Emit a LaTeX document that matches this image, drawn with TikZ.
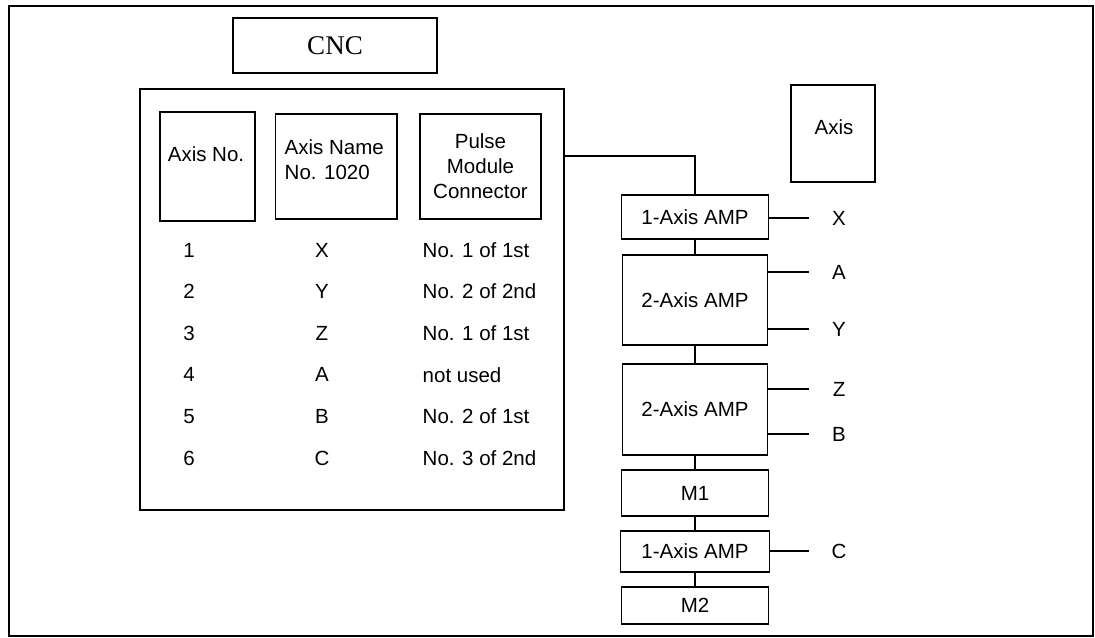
\documentclass[tikz,border=0pt]{standalone}
\usepackage{fontspec}
\setmainfont{Liberation Sans}
\newfontfamily\cncfont{Liberation Serif}
\usepackage{tikz}

\begin{document}
\begin{tikzpicture}[x=0.5pt, y=-0.5pt, line width=0.7pt,
        font=\fontsize{10.25}{12.5}\selectfont,
        box/.style={draw, inner sep=0pt},
        txt/.style={inner sep=0pt},
        tap/.style={shorten >=15pt}]
            % Frame
            \useasboundingbox (0,0) rectangle (1095,637);
            \draw[line width=0.9pt] (9,6) rectangle (1093,636);

            % Nodes
            \node[box, minimum width=102pt, minimum height=27.5pt, font=\cncfont\fontsize{13.5}{16}\selectfont] (cnc) at (335,45.5) {CNC};
            \node[box, minimum width=212pt, minimum height=210.5pt] (unit) at (352,299.5) {};

            \node[box, minimum width=47.5pt, minimum height=54.5pt] (hno) at (207.5,166.5) {};
            \node[txt] (hnotxt) at (206,154) {Axis No.};
            \node[box, minimum width=60.75pt, minimum height=52.5pt] (hname) at (336.25,166.5) {};
            \node[txt, anchor=west, align=left] (hnametxt) at (284,159.5) {Axis Name\\No. 1020};
            \node[box, minimum width=60.5pt, minimum height=52.5pt, align=center] (hconn) at (480.5,166.5) {Pulse\\Module\\Connector};

            \foreach \idx/\ax/\conn [count=\i] in {1/X/No. 1 of 1st, 2/Y/No. 2 of 2nd, 3/Z/No. 1 of 1st, 4/A/not used, 5/B/No. 2 of 1st, 6/C/No. 3 of 2nd}{
                \node[txt] (no\i) at (189,{250+41.6*(\i-1)}) {\idx};
                \node[txt] (ax\i) at (322,{250+41.6*(\i-1)}) {\ax};
                \node[txt, anchor=west] (conn\i) at (422,{250+41.6*(\i-1)}) {\conn};
            }

            \node[box, minimum width=42pt, minimum height=48.5pt] (axisbox) at (833,133.5) {};
            \node[txt] (axistxt) at (834,127) {Axis};

            \node[box, minimum width=73.5pt, minimum height=22pt] (amp1) at (695,217) {1-Axis AMP};
            \node[box, minimum width=72.75pt, minimum height=45pt] (amp2) at (695,300) {2-Axis AMP};
            \node[box, minimum width=72.5pt, minimum height=45.5pt] (amp3) at (695,409.5) {2-Axis AMP};
            \node[box, minimum width=73.5pt, minimum height=23pt] (m1) at (695,493) {M1};
            \node[box, minimum width=74.5pt, minimum height=20.5pt] (amp4) at (695,551.5) {1-Axis AMP};
            \node[box, minimum width=73.75pt, minimum height=18.5pt] (m2) at (695,605.5) {M2};

            % Lines
            \draw (unit.east |- 0,156) -| (amp1.north);
            \draw (amp1) -- (amp2);
            \draw (amp2) -- (amp3);
            \draw (amp3) -- (m1);
            \draw (m1) -- (amp4);
            \draw (amp4) -- (m2);

            \foreach \lb/\src/\yy in {X/amp1/218, A/amp2/272, Y/amp2/329, Z/amp3/389, B/amp3/434, C/amp4/551}{
                \node[txt] (l\lb) at (839,\yy) {\lb};
                \draw[tap] (\src.east |- l\lb) -- (l\lb.center);
            }
        \end{tikzpicture}
\end{document}
